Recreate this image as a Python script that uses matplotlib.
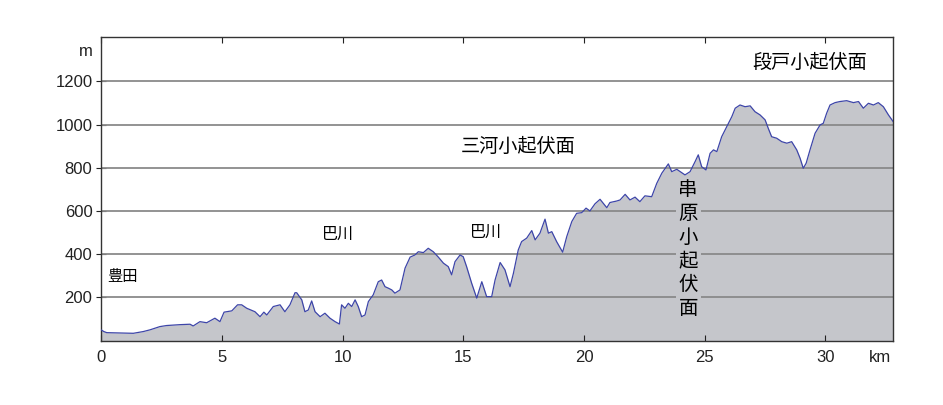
import numpy as np
import matplotlib
matplotlib.use("Agg")
import matplotlib.pyplot as plt

plt.rcParams['font.family'] = ['Liberation Sans', 'DejaVu Sans']
cjk = ['Noto Sans CJK JP', 'DejaVu Sans']

# 距離 (km) と 標高 (m)、図から読み取り
dist_km = [0.00, 0.10, 0.22, 1.32, 1.73, 2.01, 2.42, 2.70, 3.25, 3.67, 3.80, 4.08, 4.36,
           4.70, 4.91, 5.08, 5.40, 5.64, 5.81, 6.02, 6.36, 6.57, 6.73, 6.85, 7.12, 7.40,
           7.60, 7.81, 8.02, 8.09, 8.30, 8.43, 8.57, 8.71, 8.85, 9.06, 9.26, 9.47, 9.68,
           9.86, 9.95, 10.09, 10.23, 10.37, 10.51, 10.64, 10.78, 10.92, 11.06, 11.26,
           11.47, 11.61, 11.75, 11.89, 12.03, 12.16, 12.37, 12.58, 12.79, 12.99, 13.13,
           13.34, 13.54, 13.75, 13.96, 14.17, 14.37, 14.51, 14.65, 14.86, 14.99, 15.13,
           15.34, 15.55, 15.76, 15.96, 16.17, 16.31, 16.52, 16.72, 16.93, 17.07, 17.27,
           17.41, 17.62, 17.83, 17.97, 18.17, 18.38, 18.52, 18.66, 18.86, 19.11, 19.28,
           19.49, 19.69, 19.90, 20.08, 20.24, 20.45, 20.66, 20.94, 21.07, 21.35, 21.49,
           21.70, 21.90, 22.11, 22.31, 22.52, 22.80, 23.01, 23.22, 23.49, 23.63, 23.84,
           24.18, 24.39, 24.60, 24.73, 24.87, 25.05, 25.22, 25.36, 25.50, 25.70, 25.91,
           26.12, 26.26, 26.46, 26.67, 26.88, 27.08, 27.29, 27.50, 27.63, 27.77, 27.98,
           28.19, 28.40, 28.60, 28.81, 28.95, 29.08, 29.20, 29.36, 29.57, 29.78, 29.91,
           30.05, 30.19, 30.40, 30.60, 30.88, 31.16, 31.37, 31.57, 31.78, 31.99, 32.19,
           32.40, 32.61, 32.80]
elev_m = [48, 41, 36, 33, 41, 49, 64, 69, 73, 75, 67, 87, 82,
          103, 87, 131, 137, 165, 165, 149, 133, 110, 131, 118, 157, 165,
          133, 165, 221, 221, 188, 133, 141, 183, 133, 110, 126, 103, 87,
          76, 165, 149, 172, 157, 188, 157, 110, 118, 180, 211,
          272, 280, 249, 242, 234, 219, 234, 335, 386, 396, 411,
          407, 427, 411, 386, 358, 342, 304, 365, 396, 388, 342,
          265, 196, 272, 203, 203, 280, 361, 327, 249, 311, 419,
          458, 474, 509, 466, 497, 562, 497, 504, 458, 409, 481,
          551, 589, 592, 613, 600, 633, 654, 615, 639, 646, 651,
          677, 651, 664, 643, 670, 666, 728, 775, 818, 782, 793,
          767, 782, 829, 860, 805, 790, 867, 883, 875, 944, 991,
          1037, 1076, 1091, 1083, 1087, 1060, 1045, 1022, 983, 944, 937,
          921, 914, 921, 883, 844, 798, 821, 883, 960, 999, 1006,
          1053, 1091, 1102, 1107, 1111, 1102, 1107, 1076, 1099, 1091, 1102,
          1083, 1045, 1015]

x_ticks = [0, 5, 10, 15, 20, 25, 30]
y_ticks = [200, 400, 600, 800, 1000, 1200]

fig = plt.figure(figsize=(9.43, 4.05), dpi=100)
ax = fig.add_axes([0.1076, 0.1568, 0.8394, 0.7518])

ax.fill_between(dist_km, elev_m, -10, color='#c5c6cb', zorder=1, linewidth=0)
ax.plot(dist_km, elev_m, color='#3d45a8', linewidth=0.9, zorder=3)

for y in y_ticks:
    ax.axhline(y, color='#8a8a8a', linewidth=1.3, zorder=2)

ax.set_xlim(0, 32.8)
ax.set_ylim(-5, 1406)
ax.set_xticks(x_ticks)
ax.set_yticks(y_ticks)
ax.tick_params(axis='both', labelsize=12, colors='#222222')
ax.tick_params(axis='x', direction='in', top=True, length=4, pad=6)
ax.tick_params(axis='y', direction='inout', length=7, pad=3)
for s in ax.spines.values():
    s.set_color('#333333')
    s.set_linewidth(1.0)

ax.text(-0.35, 1340, 'm', ha='right', va='center', fontsize=12, color='#222222')
ax.text(32.26, -44, 'km', ha='center', va='top', fontsize=12, color='#222222')

ax.text(0.25, 294, '豊田', family=cjk, fontsize=11, ha='left', va='center', zorder=5)
ax.text(9.8, 493, '巴川', family=cjk, fontsize=11.5, ha='center', va='center', zorder=5)
ax.text(15.94, 503, '巴川', family=cjk, fontsize=11.5, ha='center', va='center', zorder=5)
ax.text(17.27, 901, '三河小起伏面', family=cjk, fontsize=13.8, ha='center', va='center', zorder=5)
ax.text(29.36, 1290, '段戸小起伏面', family=cjk, fontsize=13.8, ha='center', va='center', zorder=5)
ax.text(24.31, 424, '串\n原\n小\n起\n伏\n面', family=cjk, fontsize=14, ha='center',
        va='center', linespacing=1.17, zorder=5,
        bbox=dict(facecolor='#c5c6cb', edgecolor='none', pad=2))

fig.savefig('out.png', dpi=100)
